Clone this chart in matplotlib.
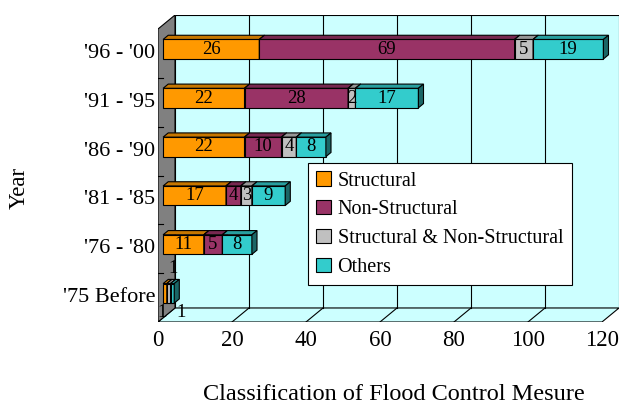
import matplotlib
matplotlib.use("Agg")
import matplotlib.pyplot as plt
import numpy as np
from matplotlib.patches import Patch

plt.rcParams['font.family'] = ['Liberation Serif', 'DejaVu Serif']

# ---- data -------------------------------------------------------------
years = ["'75 Before", "'76 - '80", "'81 - '85", "'86 - '90", "'91 - '95", "'96 - '00"]
structural = [1, 11, 17, 22, 22, 26]
non_structural = [0, 5, 4, 10, 28, 69]
struct_and_non = [1, 0, 3, 4, 2, 5]
others = [1, 8, 9, 8, 17, 19]
series_names = ["Structural", "Non-Structural", "Structural & Non-Structural", "Others"]
x_ticks = [0, 20, 40, 60, 80, 100, 120]

colors = ["#FF9900", "#993366", "#C0C0C0", "#33CCCC"]
wall_color = "#CCFFFF"
side_wall_color = "#808080"

# ---- oblique 3-D projection helpers -----------------------------------
XMAX = 120.0
NCAT = len(years)
DX = 4.6      # depth shift along x (value units) for full depth
DY = 0.287    # depth shift along y (category units) for full depth
Z0, Z1 = 0.30, 0.60   # depth range occupied by the bars
BAR_H = 0.40          # bar thickness as fraction of category band


def proj(x, y, z):
    return x + z * DX, y + z * DY


def face(ax, pts, fc, ec="black", lw=0.8, zorder=2):
    xs, ys = zip(*[proj(*p) for p in pts])
    ax.fill(xs, ys, facecolor=fc, edgecolor=ec, linewidth=lw, zorder=zorder,
            joinstyle="miter")


def shade(c, f):
    rgb = np.array(matplotlib.colors.to_rgb(c))
    return tuple(rgb * f)


fig = plt.figure(figsize=(6.2, 4.05), dpi=100)
W, H = 620, 405
ax = fig.add_axes([158 / W, 1 - 322 / H, (619 - 158) / W, (322 - 15) / H])
ax.set_xlim(0, XMAX + DX)
ax.set_ylim(0, NCAT + DY)
ax.axis("off")

# back wall
face(ax, [(0, 0, 1), (XMAX, 0, 1), (XMAX, NCAT, 1), (0, NCAT, 1)], wall_color, zorder=1)
# floor
face(ax, [(0, 0, 0), (XMAX, 0, 0), (XMAX, 0, 1), (0, 0, 1)], wall_color, zorder=1)
# vertical gridlines on back wall and their floor traces
for t in x_ticks[1:-1]:
    xa, ya = proj(t, 0, 1)
    xb, yb = proj(t, NCAT, 1)
    ax.plot([xa, xb], [ya, yb], color="black", lw=0.8, zorder=1.5)
    xf, yf = proj(t, 0, 0)
    ax.plot([xf, xa], [yf, ya], color="black", lw=0.8, zorder=1.5)
# left side wall
face(ax, [(0, 0, 0), (0, 0, 1), (0, NCAT, 1), (0, NCAT, 0)], side_wall_color, zorder=1.6)
# category tick marks on the side wall edge
for i in range(1, NCAT):
    ax.plot([0, 1.3], [i, i], color="black", lw=0.8, zorder=1.7)

# ---- stacked 3-D bars --------------------------------------------------
series = [structural, non_structural, struct_and_non, others]
small_label_offsets = {0: (-2, -14), 2: (3, 18), 3: (6, -14)}   # points, for the tiny first row

for i in range(NCAT - 1, -1, -1):
    y0 = i + 0.5 - BAR_H / 2
    y1 = i + 0.5 + BAR_H / 2
    left = 0
    for s, vals in enumerate(series):
        v = vals[i]
        if v == 0:
            continue
        right = left + v
        c = colors[s]
        face(ax, [(left, y0, Z0), (right, y0, Z0), (right, y1, Z0), (left, y1, Z0)], c, zorder=3)
        face(ax, [(left, y1, Z0), (right, y1, Z0), (right, y1, Z1), (left, y1, Z1)],
             shade(c, 0.78), zorder=3)
        face(ax, [(right, y0, Z0), (right, y0, Z1), (right, y1, Z1), (right, y1, Z0)],
             shade(c, 0.5), zorder=3)
        cx, cy = proj(left + v / 2, i + 0.5, Z0)
        if i == 0:
            off = small_label_offsets.get(s, (0, 0))
            ax.annotate(str(v), (cx, cy), xytext=off, textcoords="offset points",
                        ha="center", va="center", fontsize=13.5, zorder=5,
                        annotation_clip=False)
        else:
            ax.text(cx, cy, str(v), ha="center", va="center", fontsize=13.5, zorder=5)
        left = right

# ---- axis labels -------------------------------------------------------
for t in x_ticks:
    ax.annotate(str(t), (t, 0), xytext=(0, -13), textcoords="offset points",
                ha="center", va="center", fontsize=16.5, annotation_clip=False)
for i, name in enumerate(years):
    ax.annotate(name, (0, i + 0.5), xytext=(-2, 0), textcoords="offset points",
                ha="right", va="center", fontsize=16, annotation_clip=False)

fig.text(19 / W, 1 - 188 / H, "Year", rotation=90, ha="center", va="center", fontsize=16.5)
fig.text(394 / W, 1 - 395 / H, "Classification of Flood Control Mesure",
         ha="center", va="center", fontsize=17.5)

handles = [Patch(facecolor=c, edgecolor="black", linewidth=0.8) for c in colors]
leg = fig.legend(handles, series_names, loc="upper left",
                 bbox_to_anchor=(308 / W, 1 - 163 / H), borderaxespad=0,
                 fontsize=14.5, handlelength=0.7, handleheight=0.7,
                 handletextpad=0.35, labelspacing=0.48, borderpad=0.42,
                 fancybox=False, framealpha=1, edgecolor="black")
leg.get_frame().set_linewidth(0.8)

fig.savefig("out.png", dpi=100)
